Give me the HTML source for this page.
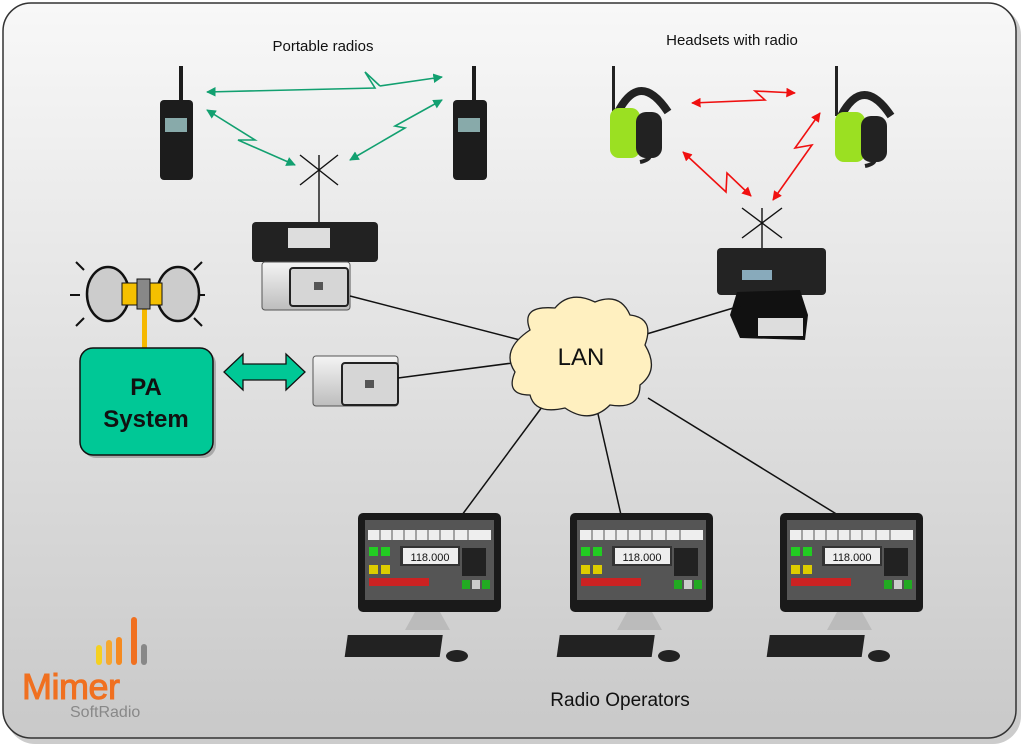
<!DOCTYPE html>
<html><head><meta charset="utf-8"><style>
html,body{margin:0;padding:0;background:#fff;}
svg{display:block;font-family:"Liberation Sans",sans-serif;}
</style></head><body>
<svg width="1024" height="747" viewBox="0 0 1024 747" xmlns="http://www.w3.org/2000/svg">
<defs>
<linearGradient id="bg" x1="0" y1="0" x2="0" y2="1"><stop offset="0" stop-color="#f8f8f8"/><stop offset="1" stop-color="#c9c9c9"/></linearGradient>
<linearGradient id="sil" x1="0" y1="0" x2="0" y2="1"><stop offset="0" stop-color="#f4f4f4"/><stop offset="1" stop-color="#bdbdbd"/></linearGradient>
<marker id="ga" viewBox="0 0 10 10" refX="9" refY="5" markerWidth="6" markerHeight="6" orient="auto-start-reverse"><path d="M0,0L10,5L0,10z" fill="#12a070"/></marker>
<marker id="ra" viewBox="0 0 10 10" refX="9" refY="5" markerWidth="6" markerHeight="6" orient="auto-start-reverse"><path d="M0,0L10,5L0,10z" fill="#f01010"/></marker>
</defs>
<rect x="7" y="7" width="1014" height="737" rx="28" fill="#999" opacity="0.5"/>
<rect x="3" y="3" width="1013" height="735" rx="28" fill="url(#bg)" stroke="#333" stroke-width="1.5"/>

<text x="323" y="51" font-size="15" text-anchor="middle" fill="#111">Portable radios</text>
<text x="732" y="45" font-size="15" text-anchor="middle" fill="#111">Headsets with radio</text>

<g fill="#1c1c1c">
<rect x="179" y="66" width="4" height="36"/><rect x="160" y="100" width="33" height="80" rx="4"/>
<rect x="472" y="66" width="4" height="36"/><rect x="453" y="100" width="34" height="80" rx="4"/>
</g>
<rect x="165" y="118" width="22" height="14" fill="#8aa"/><rect x="458" y="118" width="22" height="14" fill="#8aa"/>

<g stroke="#12a070" stroke-width="1.6" fill="none">
<polyline points="207,92 375,88 365,72 380,86" marker-start="url(#ga)"/>
<line x1="380" y1="86" x2="442" y2="77" marker-end="url(#ga)"/>
<polyline points="207,110 255,140 238,140 295,165" marker-start="url(#ga)" marker-end="url(#ga)"/>
<polyline points="350,160 405,128 395,126 442,100" marker-start="url(#ga)" marker-end="url(#ga)"/>
</g>
<g stroke="#111" stroke-width="1.4">
<line x1="300" y1="155" x2="338" y2="185"/><line x1="338" y1="155" x2="300" y2="185"/><line x1="319" y1="155" x2="319" y2="222"/>
</g>
<rect x="252" y="222" width="126" height="40" rx="4" fill="#222"/>
<rect x="288" y="228" width="42" height="20" fill="#ddd"/>
<rect x="262" y="262" width="88" height="48" rx="3" fill="url(#sil)" stroke="#555"/>
<rect x="290" y="268" width="58" height="38" rx="3" fill="#d6d6d6" stroke="#222" stroke-width="2"/>
<rect x="314" y="282" width="9" height="8" fill="#555"/>

<g>
<rect x="612" y="66" width="3" height="50" fill="#222"/>
<path d="M618,112 Q640,70 668,112" stroke="#222" stroke-width="8" fill="none"/>
<rect x="610" y="108" width="30" height="50" rx="9" fill="#9be022"/><rect x="636" y="112" width="26" height="46" rx="10" fill="#222"/>
<path d="M650,155 Q650,160 640,162" stroke="#222" stroke-width="4" fill="none"/>
<rect x="835" y="66" width="3" height="50" fill="#222"/>
<path d="M841,116 Q863,74 891,116" stroke="#222" stroke-width="8" fill="none"/>
<rect x="835" y="112" width="30" height="50" rx="9" fill="#9be022"/><rect x="861" y="116" width="26" height="46" rx="10" fill="#222"/>
<path d="M875,159 Q875,164 865,166" stroke="#222" stroke-width="4" fill="none"/>
</g>
<g stroke="#f01010" stroke-width="1.6" fill="none">
<polyline points="692,103 765,100 755,91 795,93" marker-start="url(#ra)" marker-end="url(#ra)"/>
<polyline points="683,152 726,192 727,173 751,196" marker-start="url(#ra)" marker-end="url(#ra)"/>
<polyline points="773,200 812,145 795,148 820,113" marker-start="url(#ra)" marker-end="url(#ra)"/>
</g>
<g stroke="#111" stroke-width="1.4">
<line x1="742" y1="208" x2="782" y2="238"/><line x1="782" y1="208" x2="742" y2="238"/><line x1="762" y1="208" x2="762" y2="248"/>
</g>
<rect x="717" y="248" width="109" height="47" rx="4" fill="#232323"/>
<rect x="742" y="270" width="30" height="10" fill="#8ab"/>
<path d="M737,292 L800,290 L808,315 L805,340 L740,338 L730,315z" fill="#111"/>
<rect x="758" y="318" width="45" height="18" fill="#ddd"/>

<rect x="142" y="300" width="5" height="50" fill="#f5b800"/>
<g stroke="#111" stroke-width="2">
<line x1="70" y1="295" x2="80" y2="295"/><line x1="195" y1="295" x2="205" y2="295"/>
<line x1="76" y1="262" x2="84" y2="270"/><line x1="202" y1="262" x2="194" y2="270"/>
<line x1="76" y1="326" x2="84" y2="318"/><line x1="202" y1="326" x2="194" y2="318"/>
</g>
<ellipse cx="108" cy="294" rx="21" ry="27" fill="#ccc" stroke="#111" stroke-width="2.5"/>
<ellipse cx="178" cy="294" rx="21" ry="27" fill="#ccc" stroke="#111" stroke-width="2.5"/>
<rect x="122" y="283" width="40" height="22" fill="#f5c000" stroke="#111"/>
<rect x="137" y="279" width="13" height="30" fill="#888" stroke="#111"/>

<rect x="83" y="351" width="133" height="107" rx="13" fill="#777" opacity="0.5"/>
<rect x="80" y="348" width="133" height="107" rx="13" fill="#00c896" stroke="#111" stroke-width="1.5"/>
<text x="146" y="395" font-size="24" font-weight="bold" text-anchor="middle" fill="#111">PA</text>
<text x="146" y="427" font-size="24" font-weight="bold" text-anchor="middle" fill="#111">System</text>
<path d="M224,372 L243,354 L243,364 L286,364 L286,354 L305,372 L286,390 L286,380 L243,380 L243,390z" fill="#00c896" stroke="#111" stroke-width="1.3"/>
<rect x="313" y="356" width="85" height="50" rx="3" fill="url(#sil)" stroke="#555"/>
<rect x="342" y="363" width="56" height="42" rx="3" fill="#d6d6d6" stroke="#222" stroke-width="2"/>
<rect x="365" y="380" width="9" height="8" fill="#555"/>

<g stroke="#111" stroke-width="1.5">
<line x1="350" y1="296" x2="520" y2="340"/>
<line x1="398" y1="378" x2="520" y2="362"/>
<line x1="640" y1="336" x2="740" y2="306"/>
<line x1="545" y1="403" x2="462" y2="515"/>
<line x1="598" y1="414" x2="621" y2="515"/>
<line x1="648" y1="398" x2="838" y2="515"/>
</g>
<path d="M530,330 Q520,305 555,308 Q570,290 595,302 Q620,292 630,315 Q655,318 645,345 Q660,370 640,385 Q640,410 610,405 Q590,425 565,408 Q535,415 530,395 Q505,395 515,372 Q500,350 530,330z" fill="#fff0c0" stroke="#222" stroke-width="1.3"/>
<text x="581" y="365" font-size="24" text-anchor="middle" fill="#111">LAN</text>

<g>
<rect x="358" y="513" width="143" height="99" rx="5" fill="#1a1a1a"/>
<rect x="365" y="520" width="129" height="80" fill="#555"/>
<rect x="368" y="530" width="123" height="10" fill="#eee"/>
<g stroke="#555" stroke-width="1"><line x1="380" y1="530" x2="380" y2="540"/><line x1="392" y1="530" x2="392" y2="540"/><line x1="404" y1="530" x2="404" y2="540"/><line x1="416" y1="530" x2="416" y2="540"/><line x1="428" y1="530" x2="428" y2="540"/><line x1="440" y1="530" x2="440" y2="540"/><line x1="454" y1="530" x2="454" y2="540"/><line x1="468" y1="530" x2="468" y2="540"/></g>
<rect x="400" y="546" width="60" height="20" fill="#333"/>
<rect x="403" y="548" width="55" height="16" fill="#eee"/>
<text x="430" y="561" font-size="11" text-anchor="middle" fill="#111">118.000</text>
<rect x="462" y="548" width="24" height="28" fill="#222"/>
<rect x="369" y="547" width="9" height="9" fill="#2c2"/><rect x="381" y="547" width="9" height="9" fill="#2c2"/><rect x="369" y="565" width="9" height="9" fill="#dc0"/><rect x="381" y="565" width="9" height="9" fill="#dc0"/><rect x="369" y="578" width="60" height="8" fill="#c22"/>
<rect x="462" y="580" width="8" height="9" fill="#2a2"/><rect x="472" y="580" width="8" height="9" fill="#ccc"/><rect x="482" y="580" width="8" height="9" fill="#2a2"/>
<path d="M415,612 L440,612 L450,630 L405,630z" fill="#bbb"/>
<rect x="345" y="635" width="95" height="22" fill="#222" transform="skewX(-8) translate(92 0)"/>
<ellipse cx="457" cy="656" rx="11" ry="6" fill="#222"/>
</g>
<g transform="translate(212 0)">
<rect x="358" y="513" width="143" height="99" rx="5" fill="#1a1a1a"/>
<rect x="365" y="520" width="129" height="80" fill="#555"/>
<rect x="368" y="530" width="123" height="10" fill="#eee"/>
<g stroke="#555" stroke-width="1"><line x1="380" y1="530" x2="380" y2="540"/><line x1="392" y1="530" x2="392" y2="540"/><line x1="404" y1="530" x2="404" y2="540"/><line x1="416" y1="530" x2="416" y2="540"/><line x1="428" y1="530" x2="428" y2="540"/><line x1="440" y1="530" x2="440" y2="540"/><line x1="454" y1="530" x2="454" y2="540"/><line x1="468" y1="530" x2="468" y2="540"/></g>
<rect x="400" y="546" width="60" height="20" fill="#333"/>
<rect x="403" y="548" width="55" height="16" fill="#eee"/>
<text x="430" y="561" font-size="11" text-anchor="middle" fill="#111">118.000</text>
<rect x="462" y="548" width="24" height="28" fill="#222"/>
<rect x="369" y="547" width="9" height="9" fill="#2c2"/><rect x="381" y="547" width="9" height="9" fill="#2c2"/><rect x="369" y="565" width="9" height="9" fill="#dc0"/><rect x="381" y="565" width="9" height="9" fill="#dc0"/><rect x="369" y="578" width="60" height="8" fill="#c22"/>
<rect x="462" y="580" width="8" height="9" fill="#2a2"/><rect x="472" y="580" width="8" height="9" fill="#ccc"/><rect x="482" y="580" width="8" height="9" fill="#2a2"/>
<path d="M415,612 L440,612 L450,630 L405,630z" fill="#bbb"/>
<rect x="345" y="635" width="95" height="22" fill="#222" transform="skewX(-8) translate(92 0)"/>
<ellipse cx="457" cy="656" rx="11" ry="6" fill="#222"/>
</g>
<g transform="translate(422 0)">
<rect x="358" y="513" width="143" height="99" rx="5" fill="#1a1a1a"/>
<rect x="365" y="520" width="129" height="80" fill="#555"/>
<rect x="368" y="530" width="123" height="10" fill="#eee"/>
<g stroke="#555" stroke-width="1"><line x1="380" y1="530" x2="380" y2="540"/><line x1="392" y1="530" x2="392" y2="540"/><line x1="404" y1="530" x2="404" y2="540"/><line x1="416" y1="530" x2="416" y2="540"/><line x1="428" y1="530" x2="428" y2="540"/><line x1="440" y1="530" x2="440" y2="540"/><line x1="454" y1="530" x2="454" y2="540"/><line x1="468" y1="530" x2="468" y2="540"/></g>
<rect x="400" y="546" width="60" height="20" fill="#333"/>
<rect x="403" y="548" width="55" height="16" fill="#eee"/>
<text x="430" y="561" font-size="11" text-anchor="middle" fill="#111">118.000</text>
<rect x="462" y="548" width="24" height="28" fill="#222"/>
<rect x="369" y="547" width="9" height="9" fill="#2c2"/><rect x="381" y="547" width="9" height="9" fill="#2c2"/><rect x="369" y="565" width="9" height="9" fill="#dc0"/><rect x="381" y="565" width="9" height="9" fill="#dc0"/><rect x="369" y="578" width="60" height="8" fill="#c22"/>
<rect x="462" y="580" width="8" height="9" fill="#2a2"/><rect x="472" y="580" width="8" height="9" fill="#ccc"/><rect x="482" y="580" width="8" height="9" fill="#2a2"/>
<path d="M415,612 L440,612 L450,630 L405,630z" fill="#bbb"/>
<rect x="345" y="635" width="95" height="22" fill="#222" transform="skewX(-8) translate(92 0)"/>
<ellipse cx="457" cy="656" rx="11" ry="6" fill="#222"/>
</g>
<text x="620" y="706" font-size="19" text-anchor="middle" fill="#111">Radio Operators</text>

<g stroke-linecap="round" stroke-width="6">
<line x1="99" y1="648" x2="99" y2="662" stroke="#f5d020"/>
<line x1="109" y1="643" x2="109" y2="662" stroke="#f5a830"/>
<line x1="119" y1="640" x2="119" y2="662" stroke="#f58a20"/>
<line x1="134" y1="620" x2="134" y2="662" stroke="#f07020"/>
<line x1="144" y1="647" x2="144" y2="662" stroke="#888"/>
</g>
<text x="22" y="699" font-size="36" fill="#f07020" stroke="#f07020" stroke-width="1" letter-spacing="-0.5">Mimer</text>
<text x="70" y="717" font-size="16" fill="#888">SoftRadio</text>
</svg>
</body></html>
